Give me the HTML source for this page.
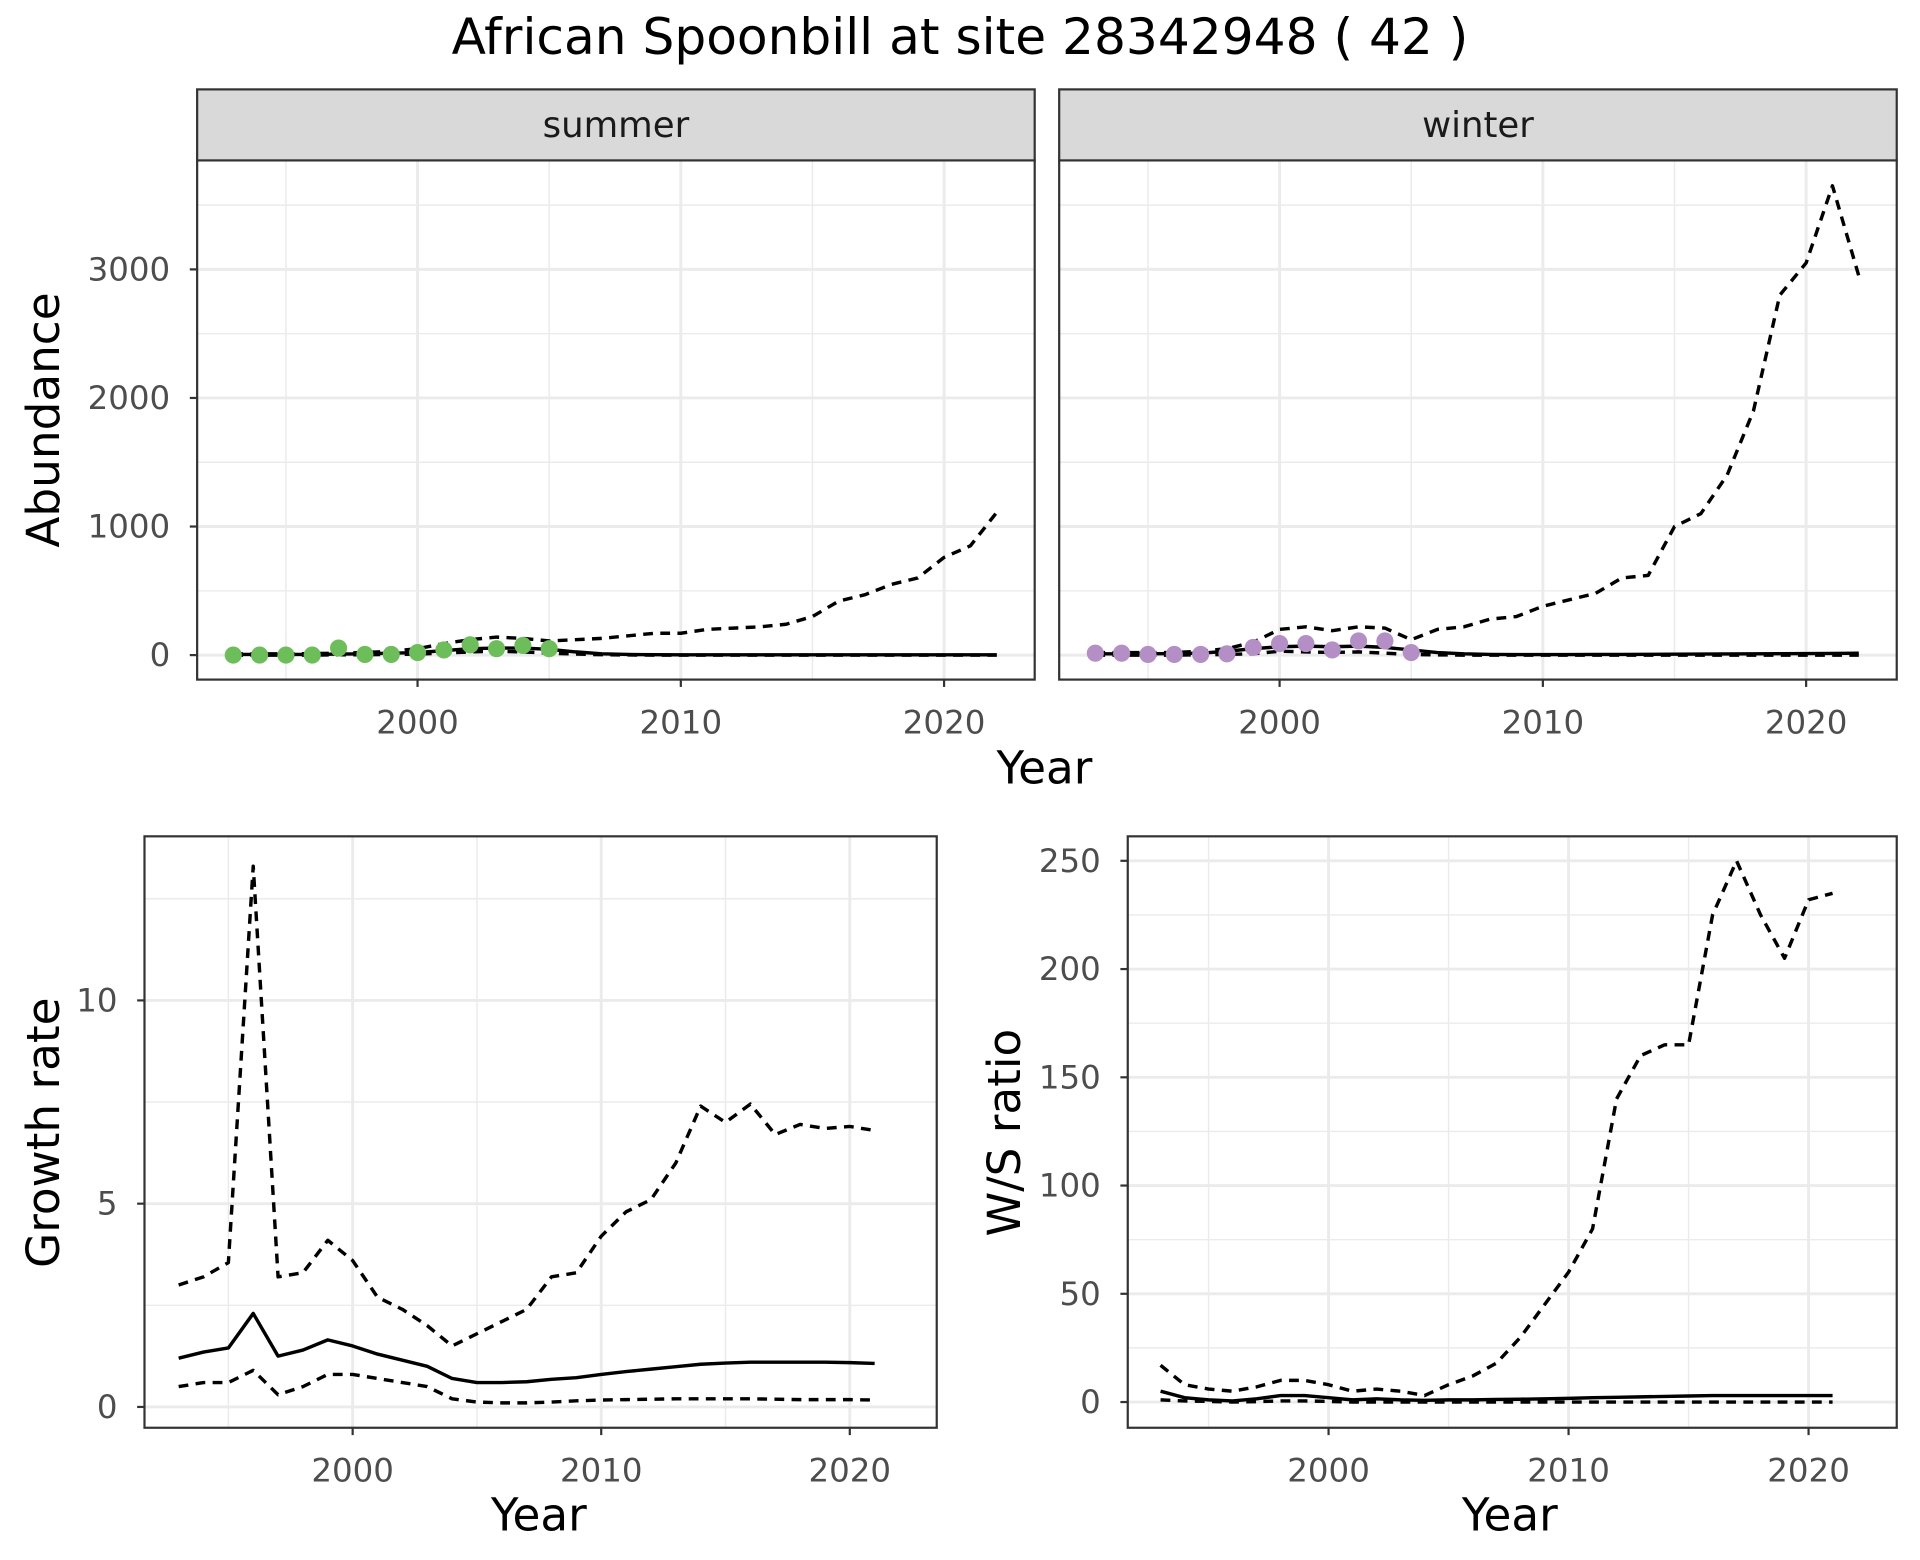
<!DOCTYPE html>
<html><head><meta charset="utf-8"><style>
html,body{margin:0;padding:0;background:#fff;}
svg{display:block;font-family:"DejaVu Sans","Liberation Sans",sans-serif;}
</style></head><body>
<svg id="chart" width="1920" height="1560" viewBox="0 0 1568 1274" xmlns="http://www.w3.org/2000/svg">
<rect width="1568" height="1274" fill="#fff"/>
<text x="784" y="44" text-anchor="middle" font-size="41" fill="#000">African Spoonbill at site 28342948 ( 42 )</text>
</svg>
<script>
const yearsAb = [1993,1994,1995,1996,1997,1998,1999,2000,2001,2002,2003,2004,2005,2006,2007,2008,2009,2010,2011,2012,2013,2014,2015,2016,2017,2018,2019,2020,2021,2022];
const obsYears = [1993,1994,1995,1996,1997,1998,1999,2000,2001,2002,2003,2004,2005];
const summerObs = [0,0,0,0,55,5,5,20,40,80,50,75,50];
const summerMid = [5,5,5,5,8,10,15,20,35,50,55,55,45,25,10,5,3,2,2,2,2,2,2,2,2,2,2,2,2,2];
const summerHi = [10,10,10,12,15,20,30,50,90,120,140,130,110,120,130,150,170,170,200,210,220,240,300,420,470,550,600,760,850,1110];
const summerLo = [0,0,0,0,2,3,5,8,15,25,30,25,15,8,3,1,0,0,0,0,0,0,0,0,0,0,0,0,0,0];
const winterObs = [15,15,5,5,5,10,60,90,90,40,110,110,20];
const winterMid = [10,10,10,12,15,30,50,65,70,65,70,60,40,20,10,5,4,4,4,5,5,6,7,8,9,10,11,12,13,15];
const winterHi = [20,20,20,20,30,50,100,200,220,190,220,210,120,200,220,280,300,380,430,480,600,620,1000,1100,1400,1900,2800,3050,3650,2950];
const winterLo = [0,0,0,0,2,5,10,30,25,20,25,15,5,2,0,0,0,0,0,0,0,0,0,0,0,0,0,0,0,0];
const yearsGr = [1993,1994,1995,1996,1997,1998,1999,2000,2001,2002,2003,2004,2005,2006,2007,2008,2009,2010,2011,2012,2013,2014,2015,2016,2017,2018,2019,2020,2021];
const growthMid = [1.2,1.35,1.45,2.3,1.25,1.4,1.65,1.5,1.3,1.15,1.0,0.7,0.6,0.6,0.62,0.68,0.72,0.8,0.87,0.93,0.99,1.05,1.08,1.1,1.1,1.1,1.1,1.09,1.07];
const growthHi = [3.0,3.2,3.55,13.3,3.2,3.3,4.1,3.6,2.7,2.4,2.0,1.5,1.8,2.1,2.4,3.2,3.3,4.2,4.8,5.1,6.0,7.4,7.0,7.45,6.7,6.95,6.85,6.9,6.8];
const growthLo = [0.5,0.6,0.6,0.9,0.3,0.5,0.8,0.8,0.7,0.6,0.5,0.2,0.12,0.1,0.1,0.12,0.15,0.17,0.18,0.19,0.2,0.2,0.2,0.2,0.19,0.18,0.18,0.18,0.17];
const ratioMid = [5,2,1,0.5,1.5,3,3,2,1,1.5,1,0.8,1,1,1.2,1.3,1.5,1.7,2,2.2,2.4,2.6,2.8,3,3,3,3,3,3];
const ratioHi = [17,8,6,5,7,10,10,8,5,6,5,3,8,12,18,30,45,60,80,140,160,165,165,225,250,225,205,232,235];
const ratioLo = [1,0.5,0.3,0,0.2,0.5,0.5,0.3,0,0,0,0,0,0,0,0,0,0,0,0,0,0,0,0,0,0,0,0,0];
const xTicks = [2000,2010,2020];
const xMinor = [1995,2005,2015];
const abTicks = [0,1000,2000,3000];
const abMinor = [500,1500,2500,3500];
const grTicks = [0,5,10];
const grMinor = [2.5,7.5,12.5];
const raTicks = [0,50,100,150,200,250];
const raMinor = [25,75,125,175,225];

const NS = "http://www.w3.org/2000/svg";
const svg = document.getElementById('chart');
function mk(tag, attrs, parent){
  const e = document.createElementNS(NS, tag);
  for (const k in attrs) e.setAttribute(k, attrs[k]);
  (parent||svg).appendChild(e);
  return e;
}
function lin(d0,d1,r0,r1){return v => r0 + (v-d0)*(r1-r0)/(d1-d0);}

function panel(o){
  const g = mk('g',{});
  
  
  const sx = o.sx, sy = o.sy;
  mk('rect',{x:o.x0,y:o.y0,width:o.x1-o.x0,height:o.y1-o.y0,fill:'#fff'},g);
  o.xMinor.forEach(v=>{const l=mk('line',{x1:sx(v),x2:sx(v),y1:o.y0,y2:o.y1,stroke:'#ebebeb','stroke-width':1.2},g);
    });
  o.yMinor.forEach(v=>{if(sy(v)<o.y0)return;const l=mk('line',{x1:o.x0,x2:o.x1,y1:sy(v),y2:sy(v),stroke:'#ebebeb','stroke-width':1.2},g);
    });
  o.xTicks.forEach(v=>{const l=mk('line',{x1:sx(v),x2:sx(v),y1:o.y0,y2:o.y1,stroke:'#ebebeb','stroke-width':2.4},g);
    });
  o.yTicks.forEach(v=>{const l=mk('line',{x1:o.x0,x2:o.x1,y1:sy(v),y2:sy(v),stroke:'#ebebeb','stroke-width':2.4},g);
    });
  function path(xs, ys, dash, nm){
    const d = xs.map((x,i)=>(i?'L':'M')+sx(x).toFixed(2)+','+sy(ys[i]).toFixed(2)).join('');
    const p = mk('path',{d:d,fill:'none',stroke:'#000','stroke-width':2.8,'stroke-dasharray':dash?'8,6':'none','stroke-linejoin':'round'},g);
    
    
  }
  path(o.xs,o.hi,true,'upper-bound-line');
  path(o.xs,o.lo,true,'lower-bound-line');
  path(o.xs,o.mid,false,'estimate-line');
  if(o.obs){
    o.obsX.forEach((x,i)=>{
      const c = mk('circle',{cx:sx(x),cy:sy(o.obs[i]),r:7,fill:o.color},g);
      
      
    });
  }
  mk('rect',{x:o.x0,y:o.y0,width:o.x1-o.x0,height:o.y1-o.y0,fill:'none',stroke:'#333','stroke-width':1.8},g);
  if(o.strip){
    const s = mk('rect',{x:o.x0,y:o.y0-58,width:o.x1-o.x0,height:58,fill:'#d9d9d9',stroke:'#333','stroke-width':1.8},g);
    
    
    const t = mk('text',{x:(o.x0+o.x1)/2,y:o.y0-19,'text-anchor':'middle','font-size':29,fill:'#1a1a1a'},g);
    t.textContent = o.strip;
    
    
  }
  o.xTicks.forEach(v=>{
    mk('line',{x1:sx(v),x2:sx(v),y1:o.y1,y2:o.y1+6,stroke:'#333','stroke-width':1.8},g);
    const t = mk('text',{x:sx(v),y:o.y1+44,'text-anchor':'middle','font-size':26.5,fill:'#4d4d4d'},g);
    t.textContent = v;
    
    
  });
  if(o.yLabels){
    o.yTicks.forEach(v=>{
      mk('line',{x1:o.x0-6,x2:o.x0,y1:sy(v),y2:sy(v),stroke:'#333','stroke-width':1.8},g);
      const t = mk('text',{x:o.x0-22,y:sy(v)+9,'text-anchor':'end','font-size':26.5,fill:'#4d4d4d'},g);
      t.textContent = v;
      
      
    });
  }
}

const sxS = lin(2000,2020,341,771), sxW = lin(2000,2020,1045,1475);
const syA = lin(0,3000,535,220);
panel({name:'summer-panel',x0:161,x1:845,y0:131,y1:555,sx:sxS,sy:syA,xTicks,xMinor,yTicks:abTicks,yMinor:abMinor,
  xs:yearsAb,hi:summerHi,lo:summerLo,mid:summerMid,obs:summerObs,obsX:obsYears,color:'#6dbd5b',strip:'summer',yLabels:true});
panel({name:'winter-panel',x0:865,x1:1549,y0:131,y1:555,sx:sxW,sy:syA,xTicks,xMinor,yTicks:abTicks,yMinor:abMinor,
  xs:yearsAb,hi:winterHi,lo:winterLo,mid:winterMid,obs:winterObs,obsX:obsYears,color:'#b48fc6',strip:'winter',yLabels:false});
panel({name:'growth-rate-panel',x0:118,x1:765,y0:683,y1:1166,sx:lin(2000,2020,288,694),sy:lin(0,10,1149,817),xTicks,xMinor,yTicks:grTicks,yMinor:grMinor,
  xs:yearsGr,hi:growthHi,lo:growthLo,mid:growthMid,yLabels:true});
panel({name:'ws-ratio-panel',x0:921,x1:1549,y0:683,y1:1166,sx:lin(2000,2020,1085,1477),sy:lin(0,250,1145,703),xTicks,xMinor,yTicks:raTicks,yMinor:raMinor,
  xs:yearsGr,hi:ratioHi,lo:ratioLo,mid:ratioMid,yLabels:true});

function label(txt,x,y,rot,nm){
  const t = mk('text',{x:x,y:y,'text-anchor':'middle','font-size':37,fill:'#000',transform:rot?`rotate(-90 ${x} ${y})`:''});
  t.textContent = txt;
  
  
}
label('Abundance',48,343,true,'abundance-y-axis-title');
label('Year',853,640,false,'top-x-axis-title');
label('Growth rate',48,925,true,'growth-y-axis-title');
label('W/S ratio',833,925,true,'ratio-y-axis-title');
label('Year',440,1250,false,'growth-x-axis-title');
label('Year',1233,1250,false,'ratio-x-axis-title');
</script>
</body></html>
